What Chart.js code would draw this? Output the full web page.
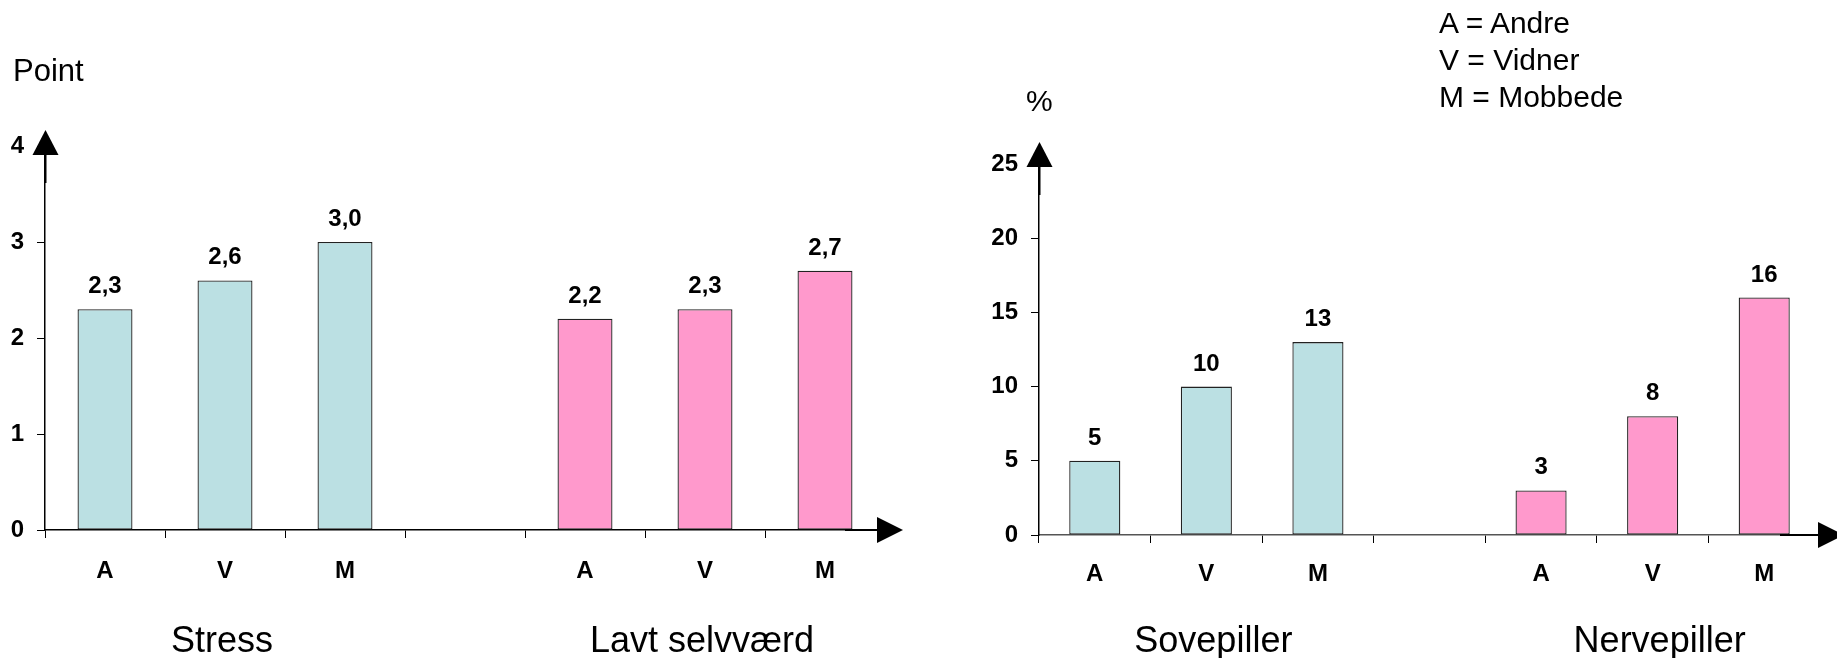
<!DOCTYPE html>
<html><head><meta charset="utf-8">
<script src="https://cdn.jsdelivr.net/npm/chart.js@4.4.1/dist/chart.umd.min.js"></script>
<style>
html,body{margin:0;padding:0;background:#fff;width:1837px;height:658px;overflow:hidden;position:relative;font-family:"Liberation Sans",Arial,sans-serif;}
canvas{position:absolute;top:0;}
.t{position:absolute;white-space:nowrap;color:#000;line-height:30px;}
</style></head><body>
<canvas id="c1" width="920" height="658" style="left:0;width:920px;height:658px"></canvas>
<canvas id="c2" width="917" height="658" style="left:920px;width:917px;height:658px"></canvas>
<div id="t1" class="t" style="left:13px;top:56px;font-size:31px"></div>
<div id="t2" class="t" style="left:1026px;top:86px;font-size:30px"></div>
<div id="legend"></div>
<script>
// ---- data ----
const categories = ['A', 'V', 'M', '', 'A', 'V', 'M'];
const leftGroups = ['Stress', 'Lavt selvværd'];
const stressValues = [2.3, 2.6, 3.0];
const selvvaerdValues = [2.2, 2.3, 2.7];
const rightGroups = ['Sovepiller', 'Nervepiller'];
const sovepillerValues = [5, 10, 13];
const nervepillerValues = [3, 8, 16];
const leftTicks = [0, 1, 2, 3, 4];
const rightTicks = [0, 5, 10, 15, 20, 25];
const leftAxisTitle = 'Point';
const rightAxisTitle = '%';
const legendCodes = ['A', 'V', 'M'];
const legendNames = ['Andre', 'Vidner', 'Mobbede'];

// ---- styling ----
const FONT = '"Liberation Sans", Arial, sans-serif';
const TEAL = '#BBE0E3';
const PINK = '#FF99CC';

document.getElementById('t1').textContent = leftAxisTitle;
document.getElementById('t2').textContent = rightAxisTitle;
const lg = document.getElementById('legend');
legendCodes.forEach((c, i) => {
  const d = document.createElement('div');
  d.className = 't';
  d.style.left = '1439px';
  d.style.top = (8 + i * 37) + 'px';
  d.style.fontSize = '30px';
  d.textContent = c + ' = ' + legendNames[i];
  lg.appendChild(d);
});

const padFirst = v => [...v, null, null, null, null];
const padSecond = v => [null, null, null, null, ...v];

function decoPlugin(o) {
  return {
    id: 'deco',
    afterDatasetsDraw(chart) {
      const ctx = chart.ctx;
      ctx.save();
      ctx.fillStyle = '#000';
      ctx.textAlign = 'center';
      ctx.textBaseline = 'alphabetic';
      ctx.font = 'bold 24px ' + FONT;
      chart.data.datasets.forEach((ds, i) => {
        chart.getDatasetMeta(i).data.forEach((bar, j) => {
          const v = ds.data[j];
          if (v == null) return;
          ctx.fillText(o.fmt(v), bar.x, bar.y - 16);
        });
      });
      const xs = chart.scales.x;
      ctx.font = '36px ' + FONT;
      o.groups.forEach((g, k) => {
        const idx = k * 4 + 1;
        ctx.fillText(g, xs.getPixelForValue(idx) + o.groupShift, 652);
      });
      ctx.restore();
    },
    afterDraw(chart) {
      const ctx = chart.ctx, a = chart.chartArea;
      ctx.save();
      ctx.fillStyle = '#000';
      ctx.strokeStyle = '#000';
      ctx.lineWidth = 2;
      // y arrow
      const tip = a.top - o.yArrowUp, base = tip + 25, x = Math.round(a.left) + 0.5;
      ctx.beginPath();
      ctx.moveTo(x, base); ctx.lineTo(x, base + 28); ctx.stroke();
      ctx.beginPath();
      ctx.moveTo(x, tip); ctx.lineTo(x - 13, base); ctx.lineTo(x + 13, base); ctx.closePath(); ctx.fill();
      // x arrow
      const y = Math.round(a.bottom);
      const xb = a.right - o.xArrowBack;
      ctx.beginPath();
      ctx.moveTo(a.right - 40, y); ctx.lineTo(xb, y); ctx.stroke();
      ctx.beginPath();
      ctx.moveTo(xb + 26, y); ctx.lineTo(xb, y - 13); ctx.lineTo(xb, y + 13); ctx.closePath(); ctx.fill();
      ctx.restore();
    }
  };
}

function makeChart(id, first, second, ticks, o) {
  const maxV = ticks[ticks.length - 1];
  const step = ticks[1] - ticks[0];
  return new Chart(document.getElementById(id), {
    type: 'bar',
    data: {
      labels: categories,
      datasets: [
        { data: padFirst(first), backgroundColor: TEAL, borderColor: '#222', borderWidth: 1.3, borderSkipped: false },
        { data: padSecond(second), backgroundColor: PINK, borderColor: '#222', borderWidth: 1.3, borderSkipped: false }
      ]
    },
    options: {
      responsive: false,
      animation: false,
      events: [],
      devicePixelRatio: 1,
      layout: { padding: { left: 0, top: o.top, right: o.right, bottom: 0 } },
      datasets: { bar: { grouped: false, categoryPercentage: 1, barPercentage: 0.458 } },
      plugins: { legend: { display: false }, tooltip: { enabled: false } },
      scales: {
        x: {
          type: 'category',
          offset: true,
          grid: { offset: true, drawOnChartArea: false, drawTicks: true, tickLength: 8, color: '#000', lineWidth: 1 },
          border: { display: true, color: o.xBorder, width: 1.5 },
          ticks: { color: '#000', font: { family: FONT, size: 24, weight: 'bold' }, padding: o.xPad, maxRotation: 0, autoSkip: false },
          afterFit: s => { s.height = o.xHeight; }
        },
        y: {
          min: 0, max: maxV,
          afterBuildTicks: s => { s.ticks = ticks.map(v => ({ value: v })); },
          grid: { drawOnChartArea: false, drawTicks: true, tickLength: 8, color: '#000', lineWidth: 1 },
          border: { display: true, color: '#000', width: 1.5 },
          ticks: { stepSize: step, color: '#000', font: { family: FONT, size: 24, weight: 'bold' }, padding: 13 },
          afterFit: s => { s.width = o.yWidth; }
        }
      }
    },
    plugins: [decoPlugin(o)]
  });
}

makeChart('c1', stressValues, selvvaerdValues, leftTicks, {
  top: 146, right: 35, yWidth: 45, xHeight: 128, xPad: 19, xBorder: '#000',
  groups: leftGroups, groupShift: -3, yArrowUp: 16, xArrowBack: 8,
  fmt: v => v.toFixed(1).replace('.', ',')
});
makeChart('c2', sovepillerValues, nervepillerValues, rightTicks, {
  top: 164, right: 17, yWidth: 119, xHeight: 123, xPad: 17, xBorder: '#555',
  groups: rightGroups, groupShift: 7, yArrowUp: 22, xArrowBack: 2,
  fmt: v => String(v)
});
</script>
</body></html>
